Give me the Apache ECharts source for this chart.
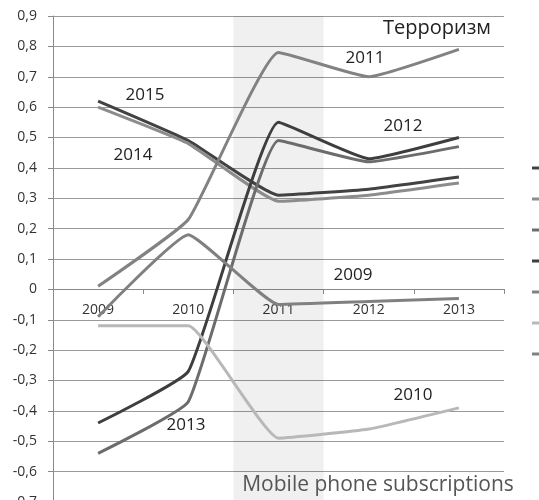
<!DOCTYPE html>
<html>
<head>
<meta charset="utf-8">
<script src="https://cdn.jsdelivr.net/npm/echarts@6/dist/echarts.min.js"></script>
<style>
html,body{margin:0;padding:0;background:#fff;overflow:hidden;}
#c{width:539px;height:500px;}
</style>
</head>
<body>
<div id="c"></div>
<script>
var categories = ['2009', '2010', '2011', '2012', '2013'];
var s2015 = [0.62, 0.49, 0.31, 0.33, 0.37];
var s2014 = [0.60, 0.48, 0.29, 0.31, 0.35];
var s2013 = [-0.54, -0.37, 0.49, 0.42, 0.47];
var s2012 = [-0.44, -0.27, 0.55, 0.43, 0.50];
var s2011 = [0.01, 0.23, 0.78, 0.70, 0.79];
var s2010 = [-0.12, -0.12, -0.49, -0.46, -0.39];
var s2009 = [-0.09, 0.18, -0.05, -0.04, -0.03];
var seriesNames = ['2015', '2014', '2013', '2012', '2011', '2010', '2009'];
var bandTop = [null, null, 0.9, null, null];
var bandBottom = [null, null, -0.7, null, null];
var titleText = 'Терроризм';
var subtitleText = 'Mobile phone subscriptions';

var dataByName = {'2015': s2015, '2014': s2014, '2013': s2013, '2012': s2012, '2011': s2011, '2010': s2010, '2009': s2009};
var colors = {'2015': '#424242', '2014': '#8c8c8c', '2013': '#6c6c6c', '2012': '#3e3e3e', '2011': '#828282', '2010': '#b8b8b8', '2009': '#808080'};
var font = '"Open Sans", "Noto Sans", sans-serif';

var series = seriesNames.map(function (n) {
  return {name: n, type: 'line', data: dataByName[n], symbol: 'none', smooth: 0.12, z: 3,
    lineStyle: {width: 3, color: colors[n]}, itemStyle: {color: colors[n]}};
});
series.push({type: 'bar', data: bandTop, stack: 'band', barWidth: '100%', silent: true, itemStyle: {color: 'rgba(0,0,0,0.06)'}, z: 1});
series.push({type: 'bar', data: bandBottom, stack: 'band', barWidth: '100%', silent: true, itemStyle: {color: 'rgba(0,0,0,0.06)'}, z: 1});

var labelStyle = {fill: '#222', font: '17px ' + font, textAlign: 'center', textVerticalAlign: 'middle'};
function txt(t, x, y, extra) {
  var st = Object.assign({}, labelStyle, {text: t});
  if (extra) Object.assign(st, extra);
  return {type: 'text', x: x, y: y, style: st, z: 10};
}

var chart = echarts.init(document.getElementById('c'));
chart.setOption({
  animation: false,
  backgroundColor: '#fff',
  grid: {left: 53, right: 35, top: 16, bottom: -2, outerBoundsMode: 'none'},
  xAxis: {
    type: 'category', data: categories, boundaryGap: true,
    offset: -213,
    axisLine: {show: true, onZero: false, lineStyle: {color: '#8a8a8a'}},
    axisTick: {show: true, length: 5, lineStyle: {color: '#8a8a8a'}},
    axisLabel: {color: '#333', fontSize: 14, fontFamily: font, margin: 14},
    splitLine: {show: false}
  },
  yAxis: {
    type: 'value', min: -0.7, max: 0.9, interval: 0.1,
    axisLine: {show: true, lineStyle: {color: '#8a8a8a'}},
    axisTick: {show: true, length: 5, lineStyle: {color: '#8a8a8a'}},
    axisLabel: {color: '#333', fontSize: 14, fontFamily: font, margin: 16,
      formatter: function (v) { var r = Math.round(v * 10) / 10; if (r === 0) return '0'; return r.toFixed(1).replace('.', ','); }},
    splitLine: {show: true, lineStyle: {color: '#9a9a9a', width: 1, type: 'solid'}}
  },
  legend: {orient: 'vertical', left: 527, top: 156, icon: 'rect', itemWidth: 14, itemHeight: 3, itemGap: 17,
    data: seriesNames, textStyle: {fontSize: 12, color: '#333', fontFamily: font, lineHeight: 14}},
  series: series,
  graphic: [
    txt('2015', 145, 95), txt('2014', 133, 155), txt('2011', 365, 58), txt('2012', 403, 126),
    txt('2009', 353, 275), txt('2013', 186, 425), txt('2010', 413, 395),
    txt(titleText, 437, 28, {font: '20px ' + font}),
    txt(subtitleText, 378, 485, {font: '21px ' + font, fill: '#555'})
  ]
});
</script>
</body>
</html>
